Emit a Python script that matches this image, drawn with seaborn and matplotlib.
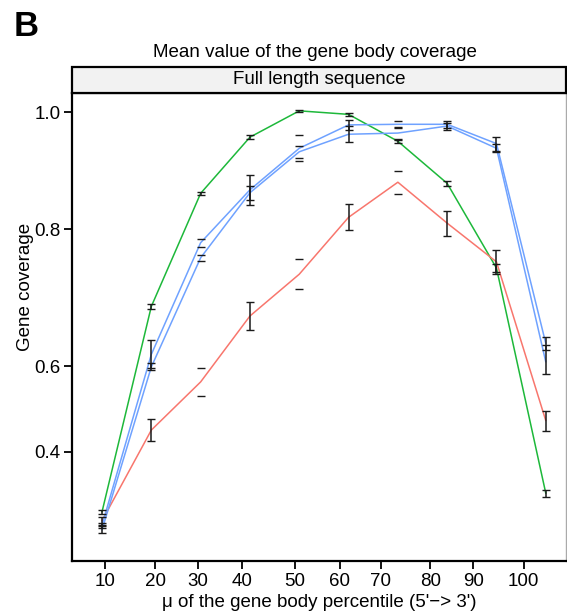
import numpy as np
import pandas as pd
import matplotlib
matplotlib.use("Agg")
import matplotlib.pyplot as plt
import seaborn as sns
from matplotlib.patches import Rectangle

sns.set_style("white")
plt.rcParams['font.family'] = ['Liberation Sans', 'DejaVu Sans']
plt.rcParams['text.color'] = 'black'
plt.rcParams['axes.labelcolor'] = 'black'
plt.rcParams['xtick.color'] = 'black'
plt.rcParams['ytick.color'] = 'black'

# ---- data ----
pct = [10, 20, 30, 40, 50, 60, 70, 80, 90, 100]
green = [0.261, 0.687, 0.861, 0.957, 1.002, 0.996, 0.950, 0.878, 0.743, 0.304]
green_err = [0.005, 0.004, 0.003, 0.003, 0.002, 0.002, 0.003, 0.004, 0.006, 0.008]
red = [0.240, 0.451, 0.563, 0.673, 0.734, 0.820, 0.880, 0.810, 0.752, 0.473]
red_err = [0.009, 0.026, 0.033, 0.021, 0.022, 0.022, 0.020, 0.020, 0.018, 0.023]
blue_a = [0.230, 0.617, 0.780, 0.867, 0.938, 0.978, 0.979, 0.979, 0.946, 0.633]
blue_a_err = [0.006, 0.021, 0.006, 0.026, 0.022, 0.008, 0.006, 0.006, 0.012, 0.010]
blue_b = [0.219, 0.598, 0.758, 0.862, 0.932, 0.962, 0.964, 0.976, 0.938, 0.606]
blue_b_err = [0.008, 0.007, 0.004, 0.012, 0.010, 0.014, 0.010, 0.006, 0.007, 0.025]
# whether the vertical stem of each error bar is visible in the original
red_stem = [1, 1, 0, 1, 0, 1, 0, 1, 1, 1]
blue_stem = [1, 1, 0, 1, 0, 1, 0, 1, 1, 1]

xtick_pos = [10.6, 20.8, 29.4, 38.4, 49.1, 58.2, 66.5, 76.6, 85.3, 95.5]
xtick_labels = ["10", "20", "30", "40", "50", "60", "70", "80", "90", "100"]
ytick_vals = [0.4, 0.6, 0.8, 1.0]
ytick_labels = ["0.4", "0.6", "0.8", "1.0"]

series_names = ["green", "red", "blue_a", "blue_b"]
palette = {"green": "#1DB83A", "red": "#F8766D", "blue_a": "#6FA2FF", "blue_b": "#6FA2FF"}

df = pd.concat([
    pd.DataFrame({"pct": pct, "cov": green, "err": green_err, "s": "green", "stem": 1}),
    pd.DataFrame({"pct": pct, "cov": red, "err": red_err, "s": "red", "stem": red_stem}),
    pd.DataFrame({"pct": pct, "cov": blue_a, "err": blue_a_err, "s": "blue_a", "stem": blue_stem}),
    pd.DataFrame({"pct": pct, "cov": blue_b, "err": blue_b_err, "s": "blue_b", "stem": blue_stem}),
], ignore_index=True)

# nonlinear y-scale of the original figure (tick spacing uneven)
anch_v = np.array([0.0, 0.4, 0.6, 0.8, 1.0, 1.3])
anch_p = np.array([624.0, 452.0, 366.0, 229.0, 112.0, -63.5])


def fwd(v):
    return -np.interp(v, anch_v, anch_p)


def inv(t):
    return np.interp(t, -anch_p, anch_v)


W, H = 567, 615
fig = plt.figure(figsize=(W / 100, H / 100), dpi=100)
L, R, B, T = 72.3, 566.0, 560.7, 93.0
ax = fig.add_axes([L / W, 1 - B / H, (R - L) / W, (B - T) / H])
ax.set_yscale("function", functions=(fwd, inv))

sns.lineplot(data=df, x="pct", y="cov", hue="s", hue_order=series_names,
             palette=palette, ax=ax, legend=False, lw=1.1, estimator=None,
             sort=False, errorbar=None)

for name in series_names:
    d = df[df.s == name]
    full = d[d.stem == 1]
    caps = d[d.stem == 0]
    ax.errorbar(full.pct, full["cov"], yerr=full.err, fmt="none", ecolor="#1a1a1a",
                elinewidth=1.1, capsize=2.6, capthick=1.0, zorder=5)
    if len(caps):
        ax.errorbar(caps.pct, caps["cov"], yerr=caps.err, fmt="none", ecolor="#1a1a1a",
                    elinewidth=0, capsize=2.6, capthick=1.0, zorder=5)

FS = 13.5
ax.set_xlim(3.97, 104.1)
ax.set_ylim(0.1472, 1.0325)
ax.set_xticks(xtick_pos)
ax.set_xticklabels(xtick_labels)
ax.set_yticks(ytick_vals)
ax.set_yticklabels(ytick_labels)
ax.minorticks_off()
ax.tick_params(axis="both", direction="out", length=6, width=1.3, color="black",
               labelsize=FS, labelcolor="black", pad=2.5, left=True, bottom=True)

for side in ["left", "bottom", "top"]:
    ax.spines[side].set_color("black")
    ax.spines[side].set_linewidth(1.6)
ax.spines["right"].set_color("#aaaaaa")
ax.spines["right"].set_linewidth(1.0)

ax.set_xlabel("\u03bc of the gene body percentile (5'\u2212> 3')", fontsize=FS, labelpad=3)
ax.set_ylabel("Gene coverage", fontsize=FS)
ax.yaxis.set_label_coords(-0.078, 0.585)

# facet strip
strip_h = (T - 67.0) / (B - T)
ax.add_patch(Rectangle((0, 1), 1, strip_h, transform=ax.transAxes, clip_on=False,
                       facecolor="#F2F2F2", edgecolor="black", linewidth=1.6, zorder=3))
ax.text(0.5, 1 + strip_h / 2, "Full length sequence", transform=ax.transAxes,
        ha="center", va="center", fontsize=FS)

fig.text(315 / W, 1 - 52.5 / H, "Mean value of the gene body coverage",
         ha="center", va="center", fontsize=FS)
fig.text(14 / W, 1 - 26 / H, "B", ha="left", va="center", fontsize=25, fontweight="bold")

fig.savefig("out.png", dpi=100)
